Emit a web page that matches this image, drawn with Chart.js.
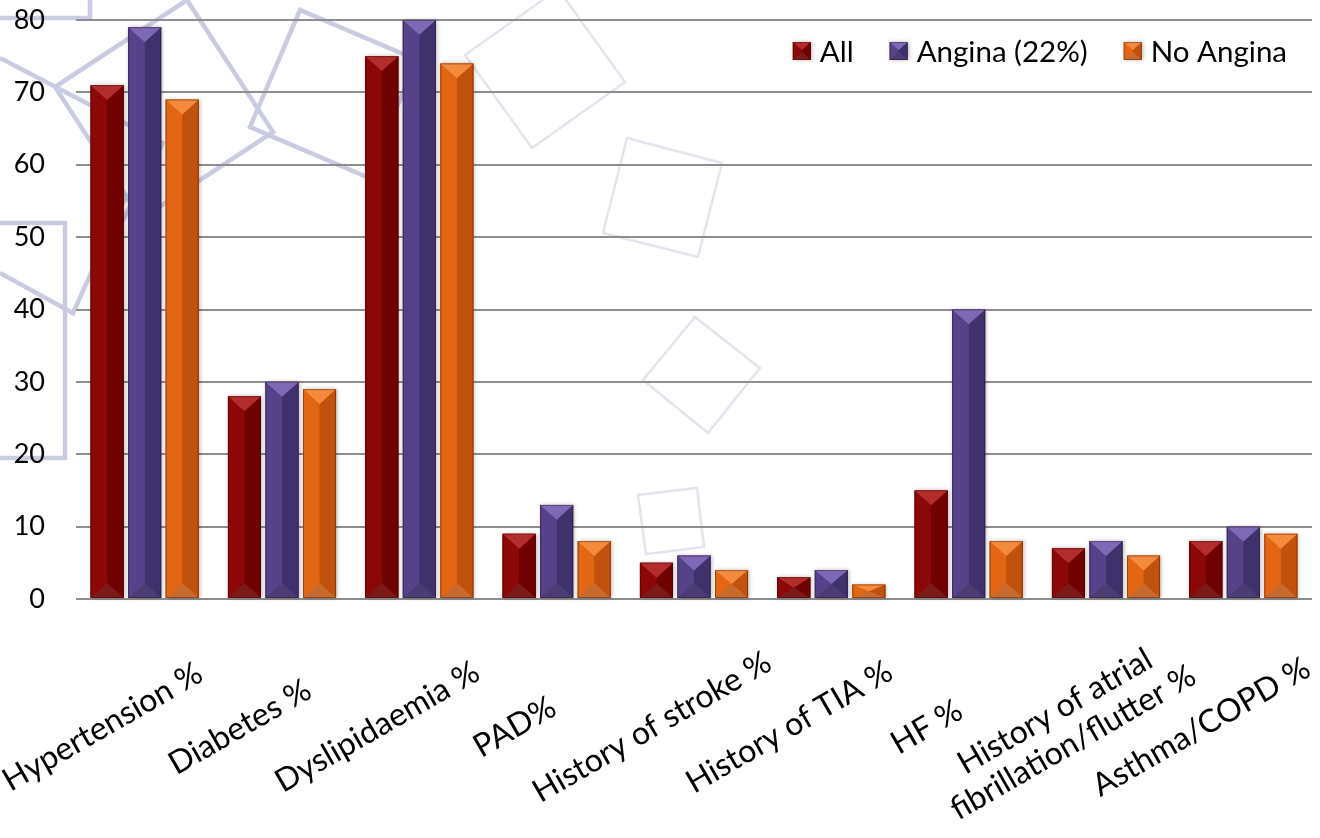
<!DOCTYPE html>
<html><head><meta charset="utf-8">
<script src="https://cdn.jsdelivr.net/npm/chart.js@4.4.1/dist/chart.umd.min.js"></script>
<style>
html,body{margin:0;padding:0;background:#fff;}
#wrap{position:relative;width:1320px;height:838px;overflow:hidden;background:#fff;}
#bg{position:absolute;left:0;top:0;}
#c{position:absolute;left:0;top:0;}
</style></head><body>
<div id="wrap">
<svg id="bg" width="1320" height="838" xmlns="http://www.w3.org/2000/svg">
 <g fill="none" stroke="#c9cce0" stroke-width="4.5" stroke-linejoin="miter">
  <polyline points="0,18 90,18 90,-6"/>
  <polygon points="55,87 187,0 273,132 141,219"/>
  <polyline points="0,58 163,143 122,222"/>
  <polygon points="250,127 367,177 417,60 300,10"/>
  <polyline points="-10,223 65,223 65,458 -10,458"/>
  <polyline points="0,273 73,313 127,193"/>
 </g>
 <g fill="none" stroke="#e3e4ee" stroke-width="2.5">
  <polygon points="465,55 558,-11 625,82 532,148"/>
  <polygon points="627,138 722,163 698,257 603,233"/>
  <polygon points="695,317 760,368 708,433 643,380"/>
  <polygon points="638,495 697,488 704,547 646,554"/>
 </g>
</svg>
<canvas id="c" width="1320" height="838"></canvas>
</div>
<script>
// ---- data ----
const categories = [
  'Hypertension %', 'Diabetes %', 'Dyslipidaemia %', 'PAD%',
  'History of stroke %', 'History of TIA %', 'HF %',
  ['History of atrial', 'fibrillation/flutter %'], 'Asthma/COPD %'
];
const seriesNames = ['All', 'Angina (22%)', 'No Angina'];
const allValues      = [71, 28, 75,  9, 5, 3, 15, 7,  8];
const anginaValues   = [79, 30, 80, 13, 6, 4, 40, 8, 10];
const noAnginaValues = [69, 29, 74,  8, 4, 2,  8, 6,  9];
const yTickValues = [0, 10, 20, 30, 40, 50, 60, 70, 80];

// ---- styles ----
const palette = [
  {left:'#8c0808', right:'#700202', top:'#b42d2d', bottom:'#7c1a1a'},
  {left:'#554289', right:'#3f326c', top:'#7d69b5', bottom:'#4b3d74'},
  {left:'#e36615', right:'#c1520e', top:'#f38a3c', bottom:'#c86a2e'}
];
const FONT = 'Lato, "Open Sans", sans-serif';

function drawBevelBar(ctx, x0, x1, y0, y1, c) {
  const w = x1 - x0, h = y1 - y0;
  if (h <= 0) return;
  const xc = (x0 + x1) / 2;
  const d = Math.min(w * 0.45, h / 2);
  ctx.save();
  ctx.shadowColor = 'rgba(0,0,0,0.28)';
  ctx.shadowBlur = 4;
  ctx.shadowOffsetX = 1;
  ctx.shadowOffsetY = 0;
  ctx.fillStyle = c.left;
  ctx.fillRect(x0, y0, w, h);
  ctx.restore();
  const poly = (pts, col) => {
    ctx.beginPath();
    ctx.moveTo(pts[0][0], pts[0][1]);
    for (let i = 1; i < pts.length; i++) ctx.lineTo(pts[i][0], pts[i][1]);
    ctx.closePath();
    ctx.fillStyle = col;
    ctx.fill();
  };
  poly([[x0,y0],[xc,y0+d],[xc,y1-d],[x0,y1]], c.left);
  poly([[x1,y0],[xc,y0+d],[xc,y1-d],[x1,y1]], c.right);
  poly([[x0,y0],[x1,y0],[xc,y0+d]], c.top);
  poly([[x0,y1],[x1,y1],[xc,y1-d]], c.bottom);
  ctx.strokeStyle = 'rgba(40,0,0,0.35)';
  ctx.lineWidth = 1;
  ctx.strokeRect(x0 + 0.5, y0 + 0.5, w - 1, h - 1);
}

const bevelPlugin = {
  id: 'bevel',
  afterDatasetsDraw(chart) {
    const ctx = chart.ctx;
    ctx.save();
    chart.data.datasets.forEach((ds, di) => {
      const meta = chart.getDatasetMeta(di);
      meta.data.forEach(el => {
        const p = el.getProps(['x','y','width','base'], true);
        drawBevelBar(ctx, p.x - p.width/2, p.x + p.width/2, Math.min(p.y,p.base), Math.max(p.y,p.base), palette[di]);
      });
    });
    ctx.restore();
  }
};

const xLabelPlugin = {
  id: 'xlabels',
  afterDraw(chart) {
    const ctx = chart.ctx;
    const xs = chart.scales.x;
    const area = chart.chartArea;
    ctx.save();
    ctx.font = '32px ' + FONT;
    ctx.fillStyle = '#000';
    ctx.textAlign = 'center';
    ctx.textBaseline = 'middle';
    const lh = 36;
    categories.forEach((lab, i) => {
      const lines = Array.isArray(lab) ? lab : [lab];
      const cx = xs.getPixelForTick(i) - 42;
      const cy = area.bottom + 128;
      ctx.save();
      ctx.translate(cx, cy);
      ctx.rotate(-Math.PI / 6);
      lines.forEach((ln, k) => {
        ctx.fillText(ln, 0, (k - (lines.length - 1) / 2) * lh);
      });
      ctx.restore();
    });
    ctx.restore();
  }
};

const legendPlugin = {
  id: 'insideLegend',
  afterDraw(chart) {
    const ctx = chart.ctx;
    const area = chart.chartArea;
    ctx.save();
    ctx.font = '29.5px ' + FONT;
    ctx.textBaseline = 'middle';
    ctx.textAlign = 'left';
    const box = 18, gapText = 9, gapItem = 36;
    const widths = chart.data.datasets.map(ds => box + gapText + ctx.measureText(ds.label).width);
    const total = widths.reduce((a,b)=>a+b,0) + gapItem * (widths.length - 1);
    let x = area.right - 25 - total;
    const y = area.top + 31;
    chart.data.datasets.forEach((ds, i) => {
      drawBevelBar(ctx, x, x + box, y - box/2, y + box/2, palette[i]);
      ctx.fillStyle = '#000';
      ctx.fillText(ds.label, x + box + gapText, y + 1);
      x += widths[i] + gapItem;
    });
    ctx.restore();
  }
};

const chart = new Chart(document.getElementById('c'), {
  type: 'bar',
  data: {
    labels: categories,
    datasets: [
      {label: seriesNames[0], data: allValues, backgroundColor: palette[0].left},
      {label: seriesNames[1], data: anginaValues, backgroundColor: palette[1].left},
      {label: seriesNames[2], data: noAnginaValues, backgroundColor: palette[2].left}
    ]
  },
  options: {
    responsive: false,
    animation: false,
    devicePixelRatio: 1,
    datasets: { bar: { categoryPercentage: 0.82, barPercentage: 0.88 } },
    layout: { padding: { left: 0, right: 8, top: 20, bottom: 0 } },
    plugins: { legend: { display: false }, tooltip: { enabled: false } },
    scales: {
      x: {
        grid: { display: false },
        border: { display: false },
        ticks: { display: false },
        afterFit(s) { s.height = 239; s.paddingLeft = 0; s.paddingRight = 0; }
      },
      y: {
        min: 0, max: 80,
        afterBuildTicks(s) { s.ticks = yTickValues.map(v => ({value: v})); },
        grid: { color: '#8e8e8e', lineWidth: 2, drawTicks: false },
        border: { display: false },
        ticks: { color: '#000', padding: 31, font: { family: FONT, size: 27 } },
        afterFit(s) { s.width = 76; s.paddingTop = 0; s.paddingBottom = 0; }
      }
    }
  },
  plugins: [bevelPlugin, xLabelPlugin, legendPlugin]
});
</script>
</body></html>
